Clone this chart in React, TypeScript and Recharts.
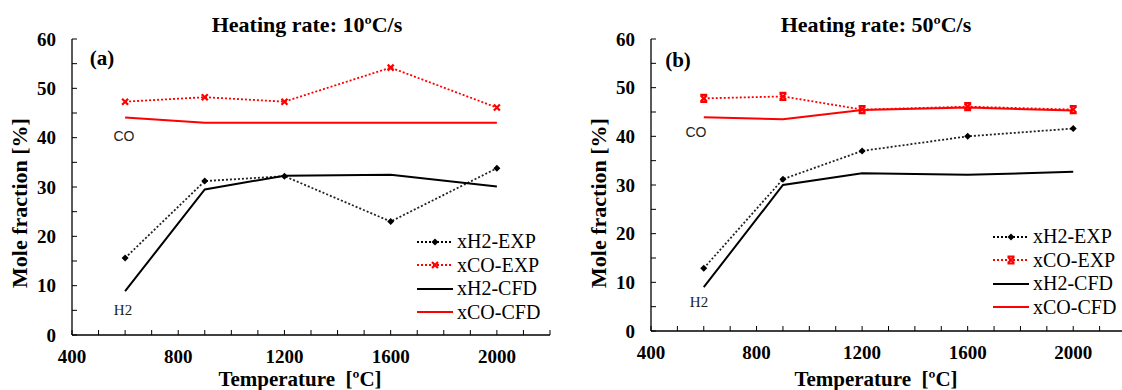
import React from 'react';
import { LineChart, Line, XAxis, YAxis, Legend } from 'recharts';

// temperatures where the runs were made
const temps = [600, 900, 1200, 1600, 2000];

// (a) heating rate 10 C/s
const h2ExpA = [15.6, 31.2, 32.2, 23.0, 33.8];
const coExpA = [47.3, 48.2, 47.3, 54.2, 46.1];
const h2CfdA = [8.9, 29.5, 32.3, 32.5, 30.1];
const coCfdA = [44.1, 43.0, 43.0, 43.0, 43.0];

// (b) heating rate 50 C/s
const h2ExpB = [12.9, 31.2, 37.0, 40.0, 41.6];
const coExpB = [47.8, 48.2, 45.5, 46.1, 45.5];
const h2CfdB = [9.0, 30.0, 32.4, 32.1, 32.7];
const coCfdB = [43.9, 43.5, 45.4, 45.9, 45.3];

const xTicks = [400, 500, 600, 700, 800, 900, 1000, 1100, 1200, 1300, 1400, 1500, 1600, 1700, 1800, 1900, 2000, 2100, 2200];
const xLabels = [400, 800, 1200, 1600, 2000];
const yTicks = [0, 5, 10, 15, 20, 25, 30, 35, 40, 45, 50, 55, 60];
const yLabels = [0, 10, 20, 30, 40, 50, 60];

const SERIF = '"Liberation Serif", "Times New Roman", serif';
const SANS = '"Liberation Sans", Arial, sans-serif';
const RED = '#ff0000';

const buildRows = (h2e: number[], coe: number[], h2c: number[], coc: number[]) =>
  temps.map((t, i) => ({ t, h2e: h2e[i], coe: coe[i], h2c: h2c[i], coc: coc[i] }));

const Diamond = ({ cx, cy }: any) => (
  <polygon
    points={`${cx},${cy - 3.5} ${cx + 3.5},${cy} ${cx},${cy + 3.5} ${cx - 3.5},${cy}`}
    fill="#000"
  />
);

const Cross = ({ cx, cy }: any) => (
  <path
    d={`M${cx - 3} ${cy - 3}L${cx + 3} ${cy + 3}M${cx + 3} ${cy - 3}L${cx - 3} ${cy + 3}`}
    stroke={RED}
    strokeWidth={2.2}
    fill="none"
  />
);

// x with caps, as used for the 50 C/s runs
const CappedCross = ({ cx, cy }: any) => (
  <path
    d={`M${cx - 3} ${cy - 3}L${cx + 3} ${cy + 3}M${cx + 3} ${cy - 3}L${cx - 3} ${cy + 3}M${cx - 3.5} ${cy - 3.5}H${cx + 3.5}M${cx - 3.5} ${cy + 3.5}H${cx + 3.5}`}
    stroke={RED}
    strokeWidth={2.2}
    fill="none"
  />
);

const YTick = (props: any) => {
  const { x, y, payload } = props;
  return (
    <g>
      <line x1={x} x2={x + 5} y1={y} y2={y} stroke="#000" strokeWidth={1} />
      {yLabels.includes(payload.value) && (
        <text x={x - 16} y={y + 6.5} textAnchor="end" fontFamily={SERIF} fontWeight="bold" fontSize={19} fill="#000">
          {payload.value}
        </text>
      )}
    </g>
  );
};

const XTick = (props: any) => {
  const { x, y, payload } = props;
  return (
    <g>
      <line x1={x} x2={x} y1={y} y2={y - 5} stroke="#000" strokeWidth={1} />
      {xLabels.includes(payload.value) && (
        <text x={x} y={y + 28} textAnchor="middle" fontFamily={SERIF} fontWeight="bold" fontSize={19} fill="#000">
          {payload.value}
        </text>
      )}
    </g>
  );
};

const LegendBox = ({ capped }: { capped: boolean }) => {
  const items = [
    { name: 'xH2-EXP', color: '#000', dash: '2 2', mark: 'd' },
    { name: 'xCO-EXP', color: RED, dash: '2 2', mark: 'x' },
    { name: 'xH2-CFD', color: '#000', dash: undefined, mark: '' },
    { name: 'xCO-CFD', color: RED, dash: undefined, mark: '' },
  ];
  return (
    <div style={{ fontFamily: SERIF, fontSize: 20, lineHeight: '23.5px' }}>
      {items.map((it) => (
        <div key={it.name} style={{ display: 'flex', alignItems: 'center', height: 23.5 }}>
          <svg width={40} height={12} style={{ display: 'block' }}>
            <line x1={0} x2={36} y1={6} y2={6} stroke={it.color} strokeWidth={it.dash ? 1.8 : 2} strokeDasharray={it.dash} />
            {it.mark === 'd' && <Diamond cx={18} cy={6} />}
            {it.mark === 'x' && (capped ? <CappedCross cx={18} cy={6} /> : <Cross cx={18} cy={6} />)}
          </svg>
          <span style={{ color: '#000' }}>{it.name}</span>
        </div>
      ))}
    </div>
  );
};

interface PanelProps {
  data: Array<{ t: number; h2e: number; coe: number; h2c: number; coc: number }>;
  width: number;
  axisWidth: number;
  xAxisHeight: number;
  marginRight: number;
  legendLeft: number;
  legendTop: number;
  capped: boolean;
}

const Panel: React.FC<PanelProps> = ({ data, width, axisWidth, xAxisHeight, marginRight, legendLeft, legendTop, capped }) => (
  <LineChart width={width} height={390} data={data} margin={{ top: 39, right: marginRight, bottom: 0, left: 0 }}>
    <XAxis
      dataKey="t"
      type="number"
      domain={[400, 2200]}
      ticks={xTicks}
      interval={0}
      height={xAxisHeight}
      tickSize={0}
      tickMargin={0}
      tickLine={false}
      tick={<XTick />}
      axisLine={{ stroke: '#000', strokeWidth: 1.3 }}
    />
    <XAxis xAxisId="top" orientation="top" type="number" domain={[400, 2200]} height={0} tick={false} tickLine={false} axisLine={{ stroke: '#7f7f7f', strokeWidth: 2 }} />
    <YAxis
      type="number"
      domain={[0, 60]}
      ticks={yTicks}
      interval={0}
      width={axisWidth}
      tickSize={0}
      tickMargin={0}
      tickLine={false}
      tick={<YTick />}
      axisLine={{ stroke: '#000', strokeWidth: 1.3 }}
    />
    <YAxis yAxisId="r" orientation="right" type="number" domain={[0, 60]} width={0} tick={false} tickLine={false} axisLine={{ stroke: '#000', strokeWidth: 1.5 }} />
    <Legend
      layout="horizontal"
      verticalAlign="middle"
      align="center"
      content={() => <LegendBox capped={capped} />}
      wrapperStyle={{ left: legendLeft, top: legendTop, width: 'auto' }}
    />
    <Line dataKey="h2e" name="xH2-EXP" type="linear" stroke="#222" strokeWidth={1.8} strokeDasharray="2 2" dot={<Diamond />} isAnimationActive={false} />
    <Line dataKey="coe" name="xCO-EXP" type="linear" stroke={RED} strokeWidth={1.8} strokeDasharray="2 2" dot={capped ? <CappedCross /> : <Cross />} isAnimationActive={false} />
    <Line dataKey="h2c" name="xH2-CFD" type="linear" stroke="#000" strokeWidth={2} dot={false} isAnimationActive={false} />
    <Line dataKey="coc" name="xCO-CFD" type="linear" stroke={RED} strokeWidth={2} dot={false} isAnimationActive={false} />
  </LineChart>
);

const Txt: React.FC<{ x: number; y: number; style?: React.CSSProperties; children: React.ReactNode }> = ({ x, y, style, children }) => (
  <div style={{ position: 'absolute', left: x, top: y, transform: 'translate(-50%, -50%)', whiteSpace: 'pre', lineHeight: 1, ...style }}>
    {children}
  </div>
);

const titleStyle: React.CSSProperties = { fontFamily: SERIF, fontWeight: 'bold', fontSize: 22 };

const App: React.FC = () => {
  const dataA = buildRows(h2ExpA, coExpA, h2CfdA, coCfdA);
  const dataB = buildRows(h2ExpB, coExpB, h2CfdB, coCfdB);
  return (
    <div style={{ position: 'absolute', left: 0, top: 0, width: 1122, height: 390, overflow: 'hidden', background: '#fff' }}>
      <div style={{ position: 'absolute', left: 0, top: 0 }}>
        <Panel data={dataA} width={560} axisWidth={72} xAxisHeight={55} marginRight={10} legendLeft={417} legendTop={230} capped={false} />
      </div>
      <div style={{ position: 'absolute', left: 560, top: 0 }}>
        <Panel data={dataB} width={580} axisWidth={91} xAxisHeight={59} marginRight={14} legendLeft={433} legendTop={225} capped={true} />
      </div>

      <Txt x={307} y={25} style={titleStyle}>Heating rate: 10ºC/s</Txt>
      <Txt x={876} y={25} style={titleStyle}>Heating rate: 50ºC/s</Txt>

      <Txt x={102} y={58} style={{ ...titleStyle, fontSize: 21 }}>(a)</Txt>
      <Txt x={678} y={60} style={{ ...titleStyle, fontSize: 21 }}>(b)</Txt>

      <Txt x={124} y={136} style={{ fontFamily: SANS, fontSize: 14, color: '#222' }}>CO</Txt>
      <Txt x={696} y={132} style={{ fontFamily: SANS, fontSize: 14, color: '#222' }}>CO</Txt>
      <Txt x={123} y={310} style={{ fontFamily: SERIF, fontSize: 15, color: '#222' }}>H2</Txt>
      <Txt x={699} y={302} style={{ fontFamily: SERIF, fontSize: 15, color: '#222' }}>H2</Txt>

      <Txt x={20} y={203} style={{ ...titleStyle, fontSize: 22, transform: 'translate(-50%, -50%) rotate(-90deg)' }}>Mole fraction [%]</Txt>
      <Txt x={599} y={203} style={{ ...titleStyle, fontSize: 22, transform: 'translate(-50%, -50%) rotate(-90deg)' }}>Mole fraction [%]</Txt>

      <Txt x={300} y={379} style={{ ...titleStyle, fontSize: 21 }}>Temperature  [ºC]</Txt>
      <Txt x={876} y={379} style={{ ...titleStyle, fontSize: 21 }}>Temperature  [ºC]</Txt>
    </div>
  );
};

export default App;
